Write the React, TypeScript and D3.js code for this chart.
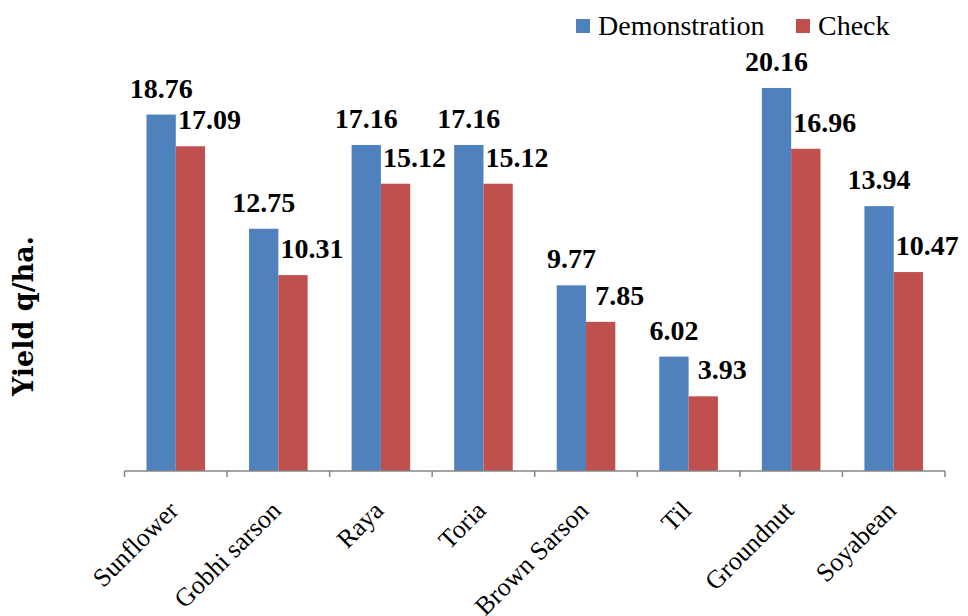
import React from "react";
import * as d3 from "d3";

// Yield (q/ha) for demonstration plots vs. farmers' check plots
const crops = ["Sunflower", "Gobhi sarson", "Raya", "Toria", "Brown Sarson", "Til", "Groundnut", "Soyabean"];
const demonstration = [18.76, 12.75, 17.16, 17.16, 9.77, 6.02, 20.16, 13.94];
const check = [17.09, 10.31, 15.12, 15.12, 7.85, 3.93, 16.96, 10.47];
const seriesNames = ["Demonstration", "Check"];

const W = 968;
const H = 616;
const COLORS: Record<string, string> = { Demonstration: "#4F81BD", Check: "#C0504D" };
const NUM_FONT = "'Liberation Serif', 'Times New Roman', serif";
const TITLE_FONT = "'DejaVu Serif', serif";

export default function App() {
  const axisY = 471;
  const x = d3.scaleBand<string>().domain(crops).range([124.5, 945]).paddingInner(0).paddingOuter(0);
  const xs = d3.scaleBand<string>().domain(seriesNames).range([0, x.bandwidth()]).paddingInner(0).paddingOuter(0.75);
  const y = d3.scaleLinear().domain([0, 22]).range([axisY, axisY - 22 * 19]);

  const rows = crops.map((c, i) => ({ crop: c, Demonstration: demonstration[i], Check: check[i] }));
  const boundaries = d3.range(crops.length + 1).map((i) => 124.5 + i * x.step());

  return (
    <svg width={W} height={H} style={{ position: "absolute", left: 0, top: 0, background: "#fff" }}>
      {/* bars and value labels */}
      {rows.map((r) => (
        <g key={r.crop} transform={`translate(${x(r.crop)},0)`}>
          {seriesNames.map((s) => {
            const v = (r as any)[s] as number;
            const bx = xs(s)!;
            const bw = xs.bandwidth();
            return (
              <g key={s}>
                <rect x={bx} y={y(v)} width={bw} height={axisY - y(v)} fill={COLORS[s]} />
                <text
                  x={s === "Demonstration" ? bx + bw / 2 : bx + bw / 2 + 19}
                  y={y(v) - 17}
                  textAnchor="middle"
                  fontFamily={NUM_FONT}
                  fontWeight="bold"
                  fontSize={28}
                  fill="#000"
                >
                  {v.toFixed(2)}
                </text>
              </g>
            );
          })}
        </g>
      ))}

      {/* category axis */}
      <line x1={124.5} x2={945} y1={axisY} y2={axisY} stroke="#868686" strokeWidth={1.5} />
      {boundaries.map((bx, i) => (
        <line key={i} x1={bx} x2={bx} y1={axisY} y2={axisY + 6} stroke="#868686" strokeWidth={1.5} />
      ))}
      {crops.map((c) => (
        <text
          key={c}
          transform={`translate(${x(c)! + x.bandwidth() / 2 + 4},512) rotate(-45)`}
          textAnchor="end"
          fontFamily={NUM_FONT}
          fontSize={26}
          fill="#000"
        >
          {c}
        </text>
      ))}

      {/* value axis title */}
      <text
        transform="translate(33,316) rotate(-90)"
        textAnchor="middle"
        fontFamily={TITLE_FONT}
        fontWeight="bold"
        fontSize={27}
        fill="#000"
      >
        Yield q/ha.
      </text>

      {/* legend */}
      {seriesNames.map((s, i) => {
        const lx = i === 0 ? 576 : 796;
        return (
          <g key={s}>
            <rect x={lx} y={19} width={14} height={14} fill={COLORS[s]} />
            <text x={lx + 22} y={35} fontFamily={NUM_FONT} fontSize={28} fill="#000">
              {s}
            </text>
          </g>
        );
      })}
    </svg>
  );
}
